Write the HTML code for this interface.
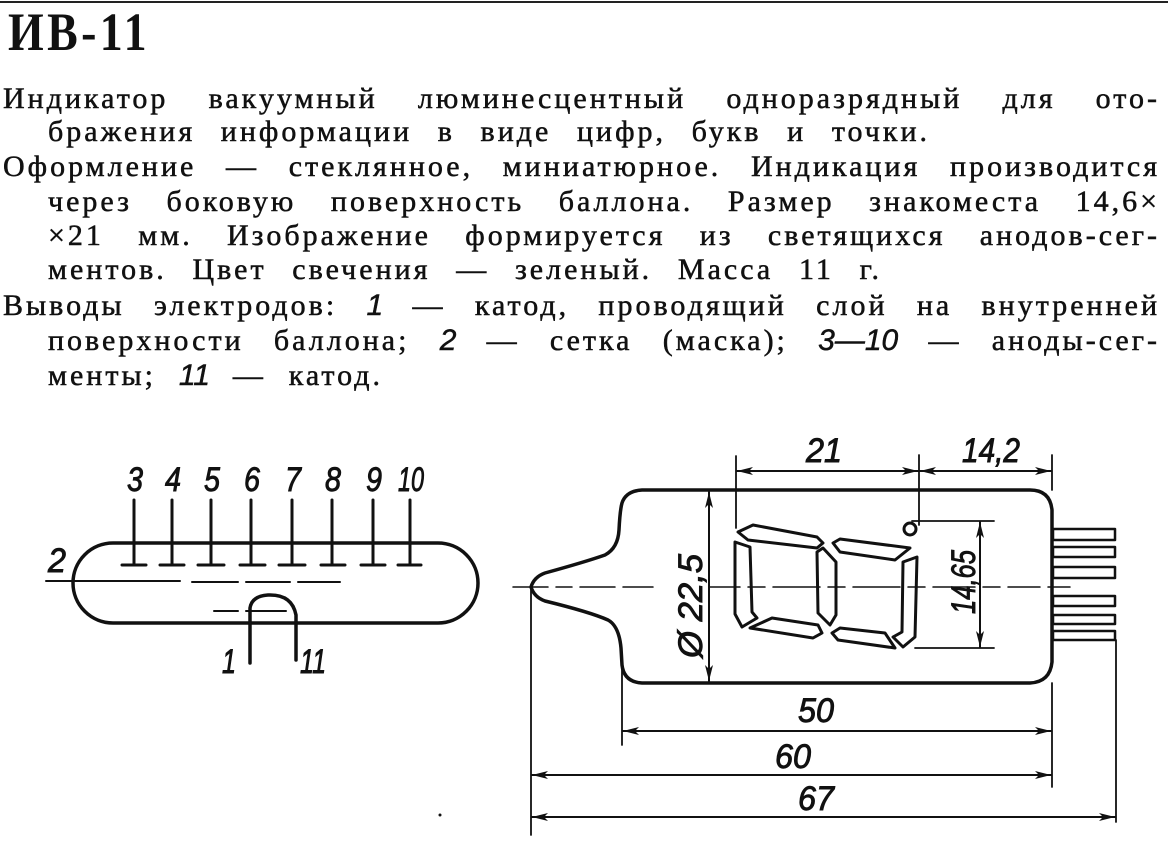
<!DOCTYPE html>
<html><head><meta charset="utf-8">
<style>
html,body{margin:0;padding:0;background:#fff;}
body{width:1168px;height:849px;position:relative;overflow:hidden;font-family:"Liberation Serif","Noto Serif CJK SC",serif;color:#111;}
.ln{position:absolute;font-size:30px;line-height:30px;height:30px;text-align:justify;text-align-last:justify;white-space:nowrap;letter-spacing:3px;-webkit-text-stroke:0.5px #111;}
.ln.l{text-align-last:left;}
i{font-family:"Liberation Sans",sans-serif;font-style:italic;letter-spacing:0;}
.title{position:absolute;left:8px;top:2px;font-size:54px;font-weight:bold;line-height:60px;transform:scaleX(0.85);transform-origin:left top;letter-spacing:4px;}
</style></head><body>
<div style="position:absolute;left:0;top:1px;width:1168px;height:2px;background:#222"></div>
<div class="title">ИВ-11</div>

<div class="ln" style="left:3px;top:84px;width:1157px;">Индикатор вакуумный люминесцентный одноразрядный для ото-</div>
<div class="ln" style="left:48px;top:117px;width:882px;">бражения информации в виде цифр, букв и точки.</div>
<div class="ln" style="left:3px;top:152px;width:1157px;">Оформление — стеклянное, миниатюрное. Индикация производится</div>
<div class="ln" style="left:48px;top:187px;width:1112px;">через боковую поверхность баллона. Размер знакоместа 14,6×</div>
<div class="ln" style="left:48px;top:221px;width:1112px;">×21 мм. Изображение формируется из светящихся анодов-сег-</div>
<div class="ln" style="left:48px;top:255px;width:834px;">ментов. Цвет свечения — зеленый. Масса 11 г.</div>
<div class="ln" style="left:3px;top:291px;width:1157px;">Выводы электродов: <i>1</i> — катод, проводящий слой на внутренней</div>
<div class="ln" style="left:48px;top:326px;width:1112px;">поверхности баллона; <i>2</i> — сетка (маска); <i>3—10</i> — аноды-сег-</div>
<div class="ln" style="left:48px;top:361px;width:335px;">менты; <i>11</i> — катод.</div>

<svg width="1168" height="849" style="position:absolute;left:0;top:0" xmlns="http://www.w3.org/2000/svg">
<defs>
<marker id="a" viewBox="0 0 16 8" refX="16" refY="4" markerWidth="16" markerHeight="8" markerUnits="userSpaceOnUse" orient="auto-start-reverse">
<path d="M0,0 L16,4 L0,8 L4,4 Z" fill="#111"/></marker>
</defs>
<g fill="none" stroke="#111" stroke-linecap="round" stroke-linejoin="round">
<rect x="73" y="543" width="405" height="80" rx="40" ry="40" stroke-width="3.5"/>
<g stroke-width="3">
<line x1="134" y1="500" x2="134" y2="564"/><line x1="122" y1="565" x2="146" y2="565"/>
<line x1="172" y1="500" x2="172" y2="564"/><line x1="160" y1="565" x2="184" y2="565"/>
<line x1="211" y1="500" x2="211" y2="564"/><line x1="198" y1="565" x2="224" y2="565"/>
<line x1="251" y1="500" x2="251" y2="564"/><line x1="240" y1="565" x2="265" y2="565"/>
<line x1="292" y1="500" x2="292" y2="564"/><line x1="279" y1="565" x2="305" y2="565"/>
<line x1="332" y1="500" x2="332" y2="564"/><line x1="321" y1="565" x2="345" y2="565"/>
<line x1="373" y1="500" x2="373" y2="564"/><line x1="361" y1="565" x2="385" y2="565"/>
<line x1="410" y1="500" x2="410" y2="564"/><line x1="398" y1="565" x2="421" y2="565"/>
</g>
<path d="M46,581 H180 M192,582 H238 M246,582 H290 M298,582 H340" stroke-width="2"/>
<path d="M214,611 H238 M246,611 H286" stroke-width="2"/>
<path d="M250,663 V608 Q252,596 268,595 Q292,594 296,615 V660" stroke-width="3.5"/>
<path d="M531,587 Q534,577 545,573 Q585,562 605,555 Q618,548 619,530 Q620,510 622,503 Q626,491 642,490 L1030,490 Q1050,490 1052,510 L1052,662 Q1050,682 1030,683 L642,683 Q624,682 622,665 L621,648 Q619,626 608,620 Q590,612 545,601 Q534,597 531,587 Z" stroke-width="3.5"/>
<g stroke-width="2.5">
<rect x="1053" y="529" width="62" height="11"/>
<rect x="1053" y="547" width="62" height="10"/>
<rect x="1053" y="567" width="62" height="11"/>
<rect x="1053" y="596" width="62" height="10"/>
<rect x="1053" y="615" width="62" height="9"/>
<rect x="1053" y="631" width="62" height="9"/>
</g>
<path d="M513,587 H548 M556,587 H572 M580,587 H615 M623,587 H653 M709,587 H740 M748,587 H765 M773,587 H820 M828,587 H845 M853,587 H900 M908,587 H925 M933,587 H975 M983,587 H1000 M1008,587 H1040 M1048,587 H1070" stroke-width="1.5"/>
<g stroke-width="3">
<polygon points="738,532 753,525 817,537 823,543 817,548 748,540"/>
<polygon points="735,542 750,547 752,612 757,618 742,627 735,614"/>
<polygon points="750,628 772,618 818,625 822,633 813,638"/>
<polygon points="817,552 823,548 836,562 836,615 830,625 818,613"/>
<polygon points="833,543 840,539 910,548 895,560 840,552"/>
<polygon points="903,562 917,557 915,637 903,647 893,637 902,632"/>
<polygon points="832,633 840,628 885,633 895,648 838,640"/>
<circle cx="910" cy="529" r="6"/>
</g>
<g stroke-width="1.8">
<line x1="736" y1="456" x2="736" y2="528"/>
<line x1="919" y1="455" x2="919" y2="525"/>
<line x1="1052" y1="455" x2="1052" y2="490"/>
<line x1="1052" y1="683" x2="1052" y2="787"/>
<line x1="1116" y1="640" x2="1116" y2="822"/>
<line x1="622" y1="668" x2="622" y2="745"/>
<line x1="531" y1="590" x2="531" y2="835"/>
<line x1="912" y1="521" x2="994" y2="521"/>
<line x1="915" y1="648" x2="994" y2="648"/>
</g>
<g stroke-width="2">
<line x1="737" y1="471" x2="918" y2="471" marker-start="url(#a)" marker-end="url(#a)"/>
<line x1="920" y1="471" x2="1051" y2="471" marker-start="url(#a)" marker-end="url(#a)"/>
<line x1="709" y1="492" x2="709" y2="681" marker-start="url(#a)" marker-end="url(#a)"/>
<line x1="980" y1="522" x2="980" y2="647" marker-start="url(#a)" marker-end="url(#a)"/>
<line x1="623" y1="731" x2="1051" y2="731" marker-start="url(#a)" marker-end="url(#a)"/>
<line x1="532" y1="775" x2="1051" y2="775" marker-start="url(#a)" marker-end="url(#a)"/>
<line x1="532" y1="817" x2="1115" y2="817" marker-start="url(#a)" marker-end="url(#a)"/>
</g>
</g>
<circle cx="440" cy="815" r="1.5" fill="#111"/>
<g font-family="Liberation Sans, sans-serif" font-style="italic" fill="#111" stroke="#111" stroke-width="0.9" font-size="34">
<text x="127" y="491" textLength="16" lengthAdjust="spacingAndGlyphs">3</text>
<text x="165" y="491" textLength="16" lengthAdjust="spacingAndGlyphs">4</text>
<text x="204" y="491" textLength="16" lengthAdjust="spacingAndGlyphs">5</text>
<text x="244" y="491" textLength="16" lengthAdjust="spacingAndGlyphs">6</text>
<text x="285" y="491" textLength="16" lengthAdjust="spacingAndGlyphs">7</text>
<text x="325" y="491" textLength="16" lengthAdjust="spacingAndGlyphs">8</text>
<text x="366" y="491" textLength="16" lengthAdjust="spacingAndGlyphs">9</text>
<text x="398" y="491" textLength="26" lengthAdjust="spacingAndGlyphs">10</text>
<text x="48" y="572" textLength="18" lengthAdjust="spacingAndGlyphs">2</text>
<text x="222" y="673" textLength="14" lengthAdjust="spacingAndGlyphs">1</text>
<text x="300" y="673" textLength="26" lengthAdjust="spacingAndGlyphs">11</text>
<text x="806" y="462" textLength="36" lengthAdjust="spacingAndGlyphs">21</text>
<text x="962" y="462" textLength="58" lengthAdjust="spacingAndGlyphs">14,2</text>
<text x="798" y="722" textLength="36" lengthAdjust="spacingAndGlyphs">50</text>
<text x="775" y="768" textLength="36" lengthAdjust="spacingAndGlyphs">60</text>
<text x="798" y="810" textLength="36" lengthAdjust="spacingAndGlyphs">67</text>
<text transform="translate(702,658) rotate(-90)" textLength="104" lengthAdjust="spacingAndGlyphs">Ø 22,5</text>
<text transform="translate(975,614) rotate(-90)" textLength="64" lengthAdjust="spacingAndGlyphs">14,65</text>
</g>
</svg>
</body></html>
